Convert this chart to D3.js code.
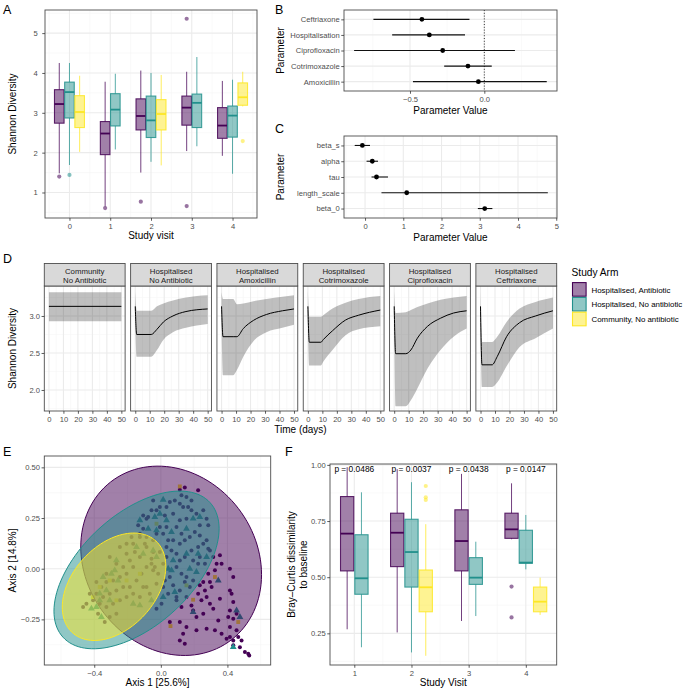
<!DOCTYPE html>
<html><head><meta charset="utf-8">
<script src="https://cdn.jsdelivr.net/npm/d3@7"></script>
<style>body{margin:0;background:#fff}svg{display:block}</style>
</head><body><svg id="c" width="685" height="689"></svg>
<script>
// ================= DATA =================
const armNames = ["Hospitalised, Antibiotic","Hospitalised, No antibiotic","Community, No antibiotic"];
const armColors = ["#440154","#21908C","#FDE725"];

// Panel A: [visit, arm, whiskerLow, q1, median, q3, whiskerHigh]
const visitsA = [0,1,2,3,4];
const shannonStats = [
 [0,0,1.48,2.74,3.22,3.58,4.25],
 [0,1,1.69,2.87,3.52,3.77,4.25],
 [0,2,2.02,2.63,3.02,3.43,3.93],
 [1,0,0.65,1.95,2.48,2.78,3.78],
 [1,1,2.08,2.67,3.08,3.48,3.98],
 [2,0,1.50,2.57,2.92,3.35,4.06],
 [2,1,1.77,2.38,2.81,3.42,4.00],
 [2,2,1.68,2.57,2.97,3.33,3.95],
 [3,0,2.04,2.69,3.13,3.42,4.03],
 [3,1,2.16,2.63,3.25,3.47,4.40],
 [4,0,1.92,2.36,2.68,3.13,3.80],
 [4,1,1.47,2.39,2.93,3.17,3.83],
 [4,2,3.16,3.19,3.39,3.75,4.03]
];
const shannonOutliers = [[0,0,1.40],[0,1,1.44],[1,0,0.61],[2,0,0.77],[3,0,5.36],[3,0,0.66],[4,2,2.29]];
const shannonTicks = [1,2,3,4,5];

// Panel B
const abxParams = ["Ceftriaxone","Hospitalisation","Ciprofloxacin","Cotrimoxazole","Amoxicillin"];
const abxMean = [-0.42,-0.37,-0.28,-0.11,-0.04];
const abxLow  = [-0.746,-0.62,-0.876,-0.27,-0.48];
const abxHigh = [-0.10,-0.13,0.206,0.05,0.42];
const abxTicks = [-0.5,0.0];

// Panel C
const hyperParams = ["beta_s","alpha","tau","length_scale","beta_0"];
const hyperMean = [-0.07,0.19,0.30,1.09,3.13];
const hyperLow  = [-0.27,0.04,0.17,0.43,2.95];
const hyperHigh = [0.13,0.34,0.60,4.78,3.33];
const hyperTicks = [0,1,2,3,4,5];

// Panel D: facets, rows [time, mean, lower, upper]
const facetNames = [["Community","No Antibiotic"],["Hospitalised","No Antibiotic"],["Hospitalised","Amoxicillin"],
                    ["Hospitalised","Cotrimoxazole"],["Hospitalised","Ciprofloxacin"],["Hospitalised","Ceftriaxone"]];
const curveCommunity = [[0,3.13,2.93,3.32],[50,3.13,2.93,3.32]];
const curveNoAbx = [[0,3.13,2.93,3.33],[1,2.75,2.45,3.07],[11,2.75,2.45,3.07],[15,2.82,2.54,3.13],[19.5,2.92,2.68,3.17],[26,3.0,2.78,3.21],[35,3.06,2.84,3.25],[50,3.095,2.89,3.28]];
const curveAmox = [[0,3.13,2.93,3.32],[1,2.72,2.20,3.23],[8,2.72,2.20,3.23],[10.6,2.72,2.27,3.16],[15,2.83,2.45,3.17],[22,2.94,2.66,3.20],[31,3.02,2.78,3.23],[42,3.07,2.84,3.26],[50,3.095,2.88,3.28]];
const curveCotrim = [[0,3.13,2.93,3.34],[1,2.645,2.33,2.99],[9,2.645,2.33,2.99],[10.6,2.68,2.38,3.01],[17,2.80,2.54,3.10],[26,2.945,2.74,3.18],[35,3.01,2.82,3.23],[50,3.08,2.86,3.27]];
const curveCipro = [[0,3.13,2.93,3.33],[1,2.49,1.78,3.04],[8,2.49,1.78,3.05],[11.5,2.54,1.86,3.08],[16,2.70,2.02,3.12],[23,2.86,2.29,3.17],[32,2.97,2.54,3.22],[41,3.04,2.72,3.25],[50,3.07,2.83,3.27]];
const curveCeftri = [[0,3.13,2.93,3.33],[1,2.34,2.04,2.65],[8,2.34,2.04,2.65],[11.5,2.45,2.10,2.72],[18,2.72,2.32,2.92],[27,2.91,2.58,3.10],[38,3.00,2.70,3.19],[50,3.07,2.83,3.25]];
const facetCurves = [curveCommunity,curveNoAbx,curveAmox,curveCotrim,curveCipro,curveCeftri];
const timeTicks = [0,10,20,30,40,50];
const diversityTicksD = [2.0,2.5,3.0];

// Panel E: PCoA points [axis1, axis2]
const pcoaCircles = [
 [0.114,0.390],[0.144,0.400],[0.224,0.387],[0.124,0.362],[0.154,0.354],[0.184,0.337],[0.355,0.066],[0.365,0.025],
 [0.335,0.025],[0.325,-0.008],[0.415,0.0],[0.435,-0.041],[0.285,-0.025],[0.255,-0.066],[0.295,-0.066],[0.234,-0.082],
 [0.265,-0.107],[0.305,-0.090],[0.224,-0.123],[0.275,-0.140],[0.244,-0.156],[0.295,-0.173],[0.415,-0.107],[0.425,-0.123],
 [0.435,-0.164],[0.315,-0.197],[0.255,-0.222],[0.214,-0.238],[0.194,-0.206],[0.094,-0.156],[0.124,-0.189],[0.054,-0.263],
 [0.114,-0.263],[0.154,-0.288],[0.134,-0.321],[0.114,-0.354],[0.144,-0.370],[0.214,-0.304],[0.275,-0.296],[0.325,-0.304],
 [0.415,-0.206],[0.405,-0.238],[0.435,-0.247],[0.455,-0.222],[0.415,-0.288],[0.455,-0.304],[0.415,-0.337],[0.465,-0.337],
 [0.435,-0.354],[0.485,-0.354],[0.475,-0.387],[0.505,-0.411],[0.525,-0.419],[0.531,-0.428],[0.435,-0.378],[0.365,-0.321],
 [0.395,-0.345],[0.345,-0.255],[0.355,-0.148],[0.184,-0.181],
 [-0.106,0.263],[-0.086,0.247],[-0.056,0.288],[-0.026,0.288],[-0.006,0.304],[0.034,0.304],[0.054,0.329],[0.084,0.337],
 [0.114,0.321],[0.134,0.304],[0.164,0.304],[0.184,0.288],[0.214,0.271],[0.255,0.288],[0.275,0.247],[0.285,0.214],
 [0.234,0.214],[0.204,0.181],[0.174,0.156],[0.144,0.140],[0.114,0.123],[0.074,0.140],[0.044,0.140],[0.014,0.173],
 [-0.006,0.206],[0.034,0.206],[0.094,0.206],[0.114,0.239],[0.074,0.271],[0.024,0.263],[0.154,0.247],[0.234,0.164],
 [0.255,0.123],[0.224,0.107],[0.184,0.090],[0.144,0.058],[0.114,0.041],[0.094,0.008],[0.124,-0.025],[0.154,-0.041],
 [0.194,-0.058],[0.174,-0.090],[0.144,-0.066],[0.054,-0.041],[0.024,-0.058],[0.074,-0.082],[0.114,-0.107],[0.044,-0.123],
 [0.014,-0.090],[-0.016,-0.025],[-0.036,0.008],[0.034,0.058],[-0.006,0.082],[0.064,0.090],[0.094,0.074],[0.034,0.107],
 [-0.046,0.140],[-0.086,0.156],[-0.126,0.173],[-0.106,0.197],[-0.136,0.214],[0.275,0.140],[0.295,0.090],[0.315,0.058],
 [0.265,0.025],[0.224,0.025],[0.234,0.058],[0.194,0.041],[0.285,0.099],[0.124,0.173],[-0.046,0.337],[-0.076,0.255],
 [-0.096,0.123],[-0.056,0.049],[0.014,0.025],[-0.026,-0.074],[-0.066,-0.123],[0.094,-0.140],[0.154,-0.140],[0.004,-0.173],
 [-0.026,-0.197],
 [-0.126,0.156],[-0.086,0.107],[-0.166,0.123],[-0.206,0.123],[-0.246,0.107],[-0.307,0.058],[-0.267,0.025],[-0.226,0.008],
 [-0.206,-0.025],[-0.246,-0.041],[-0.287,-0.058],[-0.327,-0.066],[-0.357,-0.090],[-0.387,-0.123],[-0.347,-0.140],[-0.307,-0.123],
 [-0.267,-0.107],[-0.226,-0.090],[-0.186,-0.090],[-0.146,-0.058],[-0.116,-0.025],[-0.086,0.008],[-0.046,-0.008],[-0.056,0.025],
 [-0.166,0.008],[-0.186,0.041],[-0.206,0.074],[-0.126,0.058],[-0.367,-0.173],[-0.407,-0.156],[-0.377,-0.222],[-0.327,-0.189],
 [-0.287,-0.173],[-0.246,-0.156],[-0.206,-0.140],[-0.166,-0.123],[-0.126,-0.140],[-0.086,-0.090],[-0.337,-0.263],[-0.307,-0.238],
 [-0.267,-0.222],[-0.447,-0.173],[-0.427,-0.123],[-0.467,-0.189],[-0.387,-0.066],[-0.327,-0.025],[-0.156,0.082],[-0.176,0.156],
 [-0.046,0.082],[-0.026,0.173],[-0.106,-0.090]
];
const pcoaTriangles = [
 [0.014,0.340],[-0.006,0.271],[-0.036,0.255],[0.034,0.239],[0.194,0.247],[0.234,0.255],[-0.126,0.239],[-0.076,0.197],
 [-0.026,0.189],[0.064,0.181],[0.154,0.197],[0.154,0.074],[0.074,0.041],[0.044,0.0],[0.064,-0.008],[0.174,0.0],
 [0.214,-0.016],[0.345,-0.058],[0.084,-0.115],[0.194,-0.214],[-0.056,-0.156],[0.014,-0.140],[-0.106,0.074],[-0.026,0.058],
 [-0.146,0.107],[-0.046,0.090],[-0.267,0.041],[-0.277,-0.008],[-0.297,-0.025],[-0.347,-0.041],[-0.257,-0.058],[-0.367,-0.123],
 [-0.327,-0.107],[-0.387,-0.189],[-0.357,-0.238],[-0.417,-0.197],[-0.166,-0.173],[-0.126,-0.181],[0.455,-0.206],[0.475,-0.238],
 [0.435,-0.387],[-0.367,-0.156],[-0.307,-0.156],[0.224,0.074],[0.275,0.058]
];
const pcoaSquares = [
 [0.114,0.406],[0.325,-0.041],[0.194,-0.153],[0.058,-0.283],[0.465,-0.263],[0.154,-0.082],[-0.026,0.222],
 [-0.307,-0.058],[-0.367,-0.090],[-0.407,-0.140],[-0.267,-0.156],[-0.206,-0.058],[-0.126,-0.025]
];
// ellipses per arm: [centreX, centreY, sdX, sdY, correlation]
const armEllipses = [[0.062,0.039,0.543,0.467,-0.146],[-0.146,-0.006,0.496,0.389,0.523],[-0.281,-0.089,0.311,0.265,0.38]];
const pcoaXTicks = [-0.4,0.0,0.4];
const pcoaYTicks = [-0.25,0.0,0.25,0.50];

// Panel F: [visit, arm, whiskerLow, q1, median, q3, whiskerHigh]
const visitsF = [1,2,3,4];
const brayStats = [
 [1,0,0.268,0.528,0.694,0.859,0.99],
 [1,1,0.188,0.424,0.495,0.689,0.878],
 [2,0,0.254,0.547,0.698,0.785,0.981],
 [2,1,0.165,0.456,0.612,0.758,0.923],
 [2,2,0.150,0.346,0.455,0.532,0.736],
 [3,0,0.305,0.528,0.661,0.800,0.96],
 [3,1,0.327,0.468,0.498,0.587,0.658],
 [4,0,0.669,0.673,0.713,0.785,0.918],
 [4,1,0.535,0.562,0.565,0.709,0.777],
 [4,2,0.332,0.346,0.391,0.456,0.498]
];
const brayOutliers = [[2,2,0.906],[2,2,0.856],[2,2,0.844],[4,0,0.458],[4,0,0.321]];
const brayTicks = [0.25,0.50,0.75,1.00];
const pLabels = ["p = 0.0486","p = 0.0037","p = 0.0438","p = 0.0147"];
const pLabelLevel = 0.97;

// ================= DRAWING =================
const FONT = '"Liberation Sans", Arimo, Arial, Helvetica, sans-serif';
const svg = d3.select("#c").attr("font-family", FONT);
const MAJ = "#ebebeb", MIN = "#f5f5f5", BORDER = "#4d4d4d";

function frame(x0,x1,yt,yb,vMaj,vMin,hMaj,hMin){
  const g = svg.append("g");
  g.append("rect").attr("x",x0).attr("y",yt).attr("width",x1-x0).attr("height",yb-yt).attr("fill","#fff");
  const vl=(px,c,w)=>{ if(px>x0&&px<x1) g.append("line").attr("x1",px).attr("x2",px).attr("y1",yt).attr("y2",yb).attr("stroke",c).attr("stroke-width",w); };
  const hl=(py,c,w)=>{ if(py>yt&&py<yb) g.append("line").attr("y1",py).attr("y2",py).attr("x1",x0).attr("x2",x1).attr("stroke",c).attr("stroke-width",w); };
  (vMin||[]).forEach(p=>vl(p,MIN,0.6)); (hMin||[]).forEach(p=>hl(p,MIN,0.6));
  (vMaj||[]).forEach(p=>vl(p,MAJ,1.1)); (hMaj||[]).forEach(p=>hl(p,MAJ,1.1));
  return g;
}
function border(x0,x1,yt,yb){
  svg.append("rect").attr("x",x0).attr("y",yt).attr("width",x1-x0).attr("height",yb-yt)
    .attr("fill","none").attr("stroke",BORDER).attr("stroke-width",0.9);
}
function styleAxis(g){
  g.attr("font-size",7.6).attr("font-family",FONT);
  g.select(".domain").remove();
  g.selectAll(".tick line").attr("stroke","#333").attr("stroke-width",0.8);
  g.selectAll(".tick text").attr("fill","#4d4d4d");
}
function bottomAxis(scale, y, ticks, fmt){
  svg.append("g").attr("transform",`translate(0,${y})`)
   .call(d3.axisBottom(scale).tickValues(ticks).tickSize(2.75).tickPadding(2.6).tickFormat(fmt)).call(styleAxis);
}
function leftAxis(scale, x, ticks, fmt, pad){
  const ax = d3.axisLeft(scale).tickSize(2.75).tickPadding(pad==null?1.6:pad);
  if(ticks) ax.tickValues(ticks);
  if(fmt) ax.tickFormat(fmt);
  svg.append("g").attr("transform",`translate(${x},0)`).call(ax).call(styleAxis);
}
function title(txt,x,y,rot,size){
  const t = svg.append("text").attr("x",x).attr("y",y).attr("text-anchor","middle")
    .attr("font-size",size||10).attr("fill","#000").text(txt);
  if(rot) t.attr("transform",`rotate(-90,${x},${y})`);
  return t;
}
function tag(txt,x,y){ svg.append("text").attr("x",x).attr("y",y).attr("font-size",12.5).attr("fill","#000").text(txt); }

function slotOffset(stats, visit, arm){
  const arms = stats.filter(r=>r[0]===visit).map(r=>r[1]);
  const n = arms.length, i = arms.indexOf(arm);
  return (i-(n-1)/2)*0.25;
}
function drawBoxes(g,x,y,stats,outliers,bw){
  const hw = (x(bw)-x(0))/2;
  stats.forEach(r=>{
    const [v,a,lo,q1,md,q3,hi] = r;
    const c = x(v+slotOffset(stats,v,a)), col = armColors[a];
    g.append("line").attr("x1",c).attr("x2",c).attr("y1",y(hi)).attr("y2",y(q3)).attr("stroke",col).attr("stroke-width",1).attr("stroke-opacity",0.75);
    g.append("line").attr("x1",c).attr("x2",c).attr("y1",y(q1)).attr("y2",y(lo)).attr("stroke",col).attr("stroke-width",1).attr("stroke-opacity",0.75);
    g.append("rect").attr("x",c-hw).attr("y",y(q3)).attr("width",2*hw).attr("height",y(q1)-y(q3))
      .attr("fill",col).attr("fill-opacity",0.5).attr("stroke",col).attr("stroke-width",1.1).attr("stroke-opacity",0.85);
    g.append("line").attr("x1",c-hw).attr("x2",c+hw).attr("y1",y(md)).attr("y2",y(md)).attr("stroke",col).attr("stroke-width",1.8);
  });
  outliers.forEach(o=>{
    g.append("circle").attr("cx",x(o[0]+slotOffset(stats,o[0],o[1]))).attr("cy",y(o[2])).attr("r",2.1)
      .attr("fill",armColors[o[1]]).attr("fill-opacity",0.55);
  });
}

// ---------- Panel A ----------
{
  const x = d3.scaleLinear().domain([-0.6,4.6]).range([45,257]);
  const y = d3.scaleLinear().domain([0.36,5.58]).range([218,10]);
  const g = frame(45,257,10,218, visitsA.map(x), visitsA.concat([5]).map(v=>x(v-0.5)),
                  shannonTicks.map(y), [0.5,1.5,2.5,3.5,4.5,5.5].map(y));
  drawBoxes(g,x,y,shannonStats,shannonOutliers,0.235);
  border(45,257,10,218);
  bottomAxis(x,218,visitsA,d3.format("d"));
  leftAxis(y,45,shannonTicks,d3.format("d"),4.5);
  title("Study visit",151,239);
  title("Shannon Diversity",16,114,true);
  tag("A",3,14);
}

// ---------- Panel B & C (forest) ----------
function forest(params, mean, lo, hi, yt, yb, xdom, xticks, xminor, fmt, zeroLine){
  const x = d3.scaleLinear().domain(xdom).range([344,557]);
  const y = d3.scalePoint().domain(params).range([yt,yb]).padding(0.6);
  const g = frame(344,557,yt,yb, xticks.map(x), xminor.map(x), params.map(y), []);
  if(zeroLine) g.append("line").attr("x1",x(0)).attr("x2",x(0)).attr("y1",yt).attr("y2",yb)
     .attr("stroke","#000").attr("stroke-width",0.8).attr("stroke-dasharray","1,1.8");
  params.forEach((p,i)=>{
    g.append("line").attr("x1",x(lo[i])).attr("x2",x(hi[i])).attr("y1",y(p)).attr("y2",y(p)).attr("stroke","#111").attr("stroke-width",1.1);
    g.append("circle").attr("cx",x(mean[i])).attr("cy",y(p)).attr("r",2.4).attr("fill","#000");
  });
  border(344,557,yt,yb);
  bottomAxis(x,yb,xticks,fmt);
  leftAxis(y,344,null,null,1.6);
  title("Parameter Value",450.5,yb+22.5);
  title("Parameter",284,(yt+yb)/2,true);
}
forest(abxParams,abxMean,abxLow,abxHigh,10,91,[-0.944,0.489],abxTicks,[-0.75,-0.25,0.25],d3.format(".1f"),true);
tag("B",275,14);
forest(hyperParams,hyperMean,hyperLow,hyperHigh,136,218,[-0.55,5.02],hyperTicks,[-0.5,0.5,1.5,2.5,3.5,4.5],d3.format("d"),false);
tag("C",275,133);

// ---------- Panel D ----------
{
  const stripTop = 263.5, pTop = 286, pBot = 411, L = 44.3, R = 556.7, gap = 5.5;
  const w = (R-L-gap*5)/6;
  const y = d3.scaleLinear().domain([1.716,3.405]).range([pBot,pTop]);
  facetNames.forEach((nm,k)=>{
    const x0 = L + k*(w+gap), x1 = x0 + w;
    const x = d3.scaleLinear().domain([-3.2,52.6]).range([x0,x1]);
    const g = frame(x0,x1,pTop,pBot, timeTicks.map(x), [5,15,25,35,45].map(x),
                    diversityTicksD.map(y), [1.75,2.25,2.75,3.25].map(y));
    const rows = facetCurves[k];
    g.append("path").datum(rows).attr("fill","#000").attr("fill-opacity",0.25)
      .attr("d", d3.area().x(d=>x(d[0])).y0(d=>y(d[2])).y1(d=>y(d[3])).curve(d3.curveMonotoneX));
    g.append("path").datum(rows).attr("fill","none").attr("stroke","#000").attr("stroke-width",1)
      .attr("d", d3.line().x(d=>x(d[0])).y(d=>y(d[1])).curve(d3.curveMonotoneX));
    border(x0,x1,pTop,pBot);
    svg.append("rect").attr("x",x0).attr("y",stripTop).attr("width",w).attr("height",pTop-stripTop)
      .attr("fill","#d9d9d9").attr("stroke",BORDER).attr("stroke-width",0.9);
    const st = svg.append("text").attr("x",(x0+x1)/2).attr("text-anchor","middle").attr("font-size",7.8).attr("fill","#1a1a1a");
    st.append("tspan").attr("x",(x0+x1)/2).attr("y",stripTop+10.2).text(nm[0]);
    st.append("tspan").attr("x",(x0+x1)/2).attr("y",stripTop+19.2).text(nm[1]);
    bottomAxis(x,pBot,timeTicks,d3.format("d"));
  });
  leftAxis(y,L,diversityTicksD,d3.format(".1f"),1.6);
  title("Time (days)",300.5,433);
  title("Shannon Diversity",16,348.5,true);
  tag("D",3,263);

  // legend
  svg.append("text").attr("x",571.5).attr("y",276).attr("font-size",10.2).attr("fill","#000").text("Study Arm");
  armNames.forEach((a,i)=>{
    const yy = 282 + i*14.8;
    svg.append("rect").attr("x",572.5).attr("y",yy+0.6).attr("width",13.6).attr("height",13.6)
      .attr("fill",armColors[i]).attr("fill-opacity",0.5).attr("stroke",armColors[i]).attr("stroke-width",1.1);
    svg.append("text").attr("x",591.5).attr("y",yy+10.6).attr("font-size",7.9).attr("fill","#000").text(a);
  });
}

// ---------- Panel E ----------
{
  const x = d3.scaleLinear().domain([-0.70,0.66]).range([44.3,270.7]);
  const y = d3.scaleLinear().domain([-0.475,0.556]).range([665,456]);
  const g = frame(44.3,270.7,456,665, pcoaXTicks.map(x), [-0.6,-0.2,0.2,0.6].map(x),
                  pcoaYTicks.map(y), [-0.375,-0.125,0.125,0.375].map(y));
  pcoaCircles.forEach(p=> g.append("circle").attr("cx",x(p[0])).attr("cy",y(p[1])).attr("r",2).attr("fill",armColors[0]));
  const tri = d3.symbol(d3.symbolTriangle,20), sq = d3.symbol(d3.symbolSquare,15);
  pcoaTriangles.forEach(p=> g.append("path").attr("d",tri()).attr("transform",`translate(${x(p[0])},${y(p[1])})`).attr("fill",armColors[1]));
  pcoaSquares.forEach(p=> g.append("path").attr("d",sq()).attr("transform",`translate(${x(p[0])},${y(p[1])})`).attr("fill",armColors[2]));
  const phis = d3.range(0,361,3).map(d=>d*Math.PI/180);
  armEllipses.forEach((e,i)=>{
    const [cx,cy,sx,sy,r] = e;
    const pts = phis.map(f=>[cx+sx*Math.cos(f), cy+sy*(r*Math.cos(f)+Math.sqrt(1-r*r)*Math.sin(f))]);
    g.append("path").datum(pts).attr("d",d3.line().x(d=>x(d[0])).y(d=>y(d[1])).curve(d3.curveLinearClosed))
      .attr("fill",armColors[i]).attr("fill-opacity",0.5).attr("stroke",armColors[i]).attr("stroke-width",1);
  });
  border(44.3,270.7,456,665);
  bottomAxis(x,665,pcoaXTicks,d3.format(".1f"));
  leftAxis(y,44.3,pcoaYTicks,d3.format(".2f"),1.6);
  title("Axis 1 [25.6%]",157.5,686);
  title("Axis 2 [14.8%]",16,560.5,true);
  tag("E",3,456);
}

// ---------- Panel F ----------
{
  const x = d3.scaleLinear().domain([0.575,4.54]).range([330,556.7]);
  const y = d3.scaleLinear().domain([0.109,1.004]).range([665,464]);
  const g = frame(330,556.7,464,665, visitsF.map(x), [1.5,2.5,3.5].map(x),
                  brayTicks.map(y), [0.125,0.375,0.625,0.875].map(y));
  drawBoxes(g,x,y,brayStats,brayOutliers,0.232);
  visitsF.forEach((v,i)=> g.append("text").attr("x",x(v)).attr("y",y(pLabelLevel)).attr("text-anchor","middle")
      .attr("font-size",8.4).attr("fill","#000").text(pLabels[i]));
  border(330,556.7,464,665);
  bottomAxis(x,665,visitsF,d3.format("d"));
  leftAxis(y,330,brayTicks,d3.format(".2f"),1.6);
  title("Study Visit",443.3,686);
  title("Bray\u2013Curtis dissimilarity",295,564.5,true);
  title("to baseline",307,564.5,true);
  tag("F",285,456);
}
</script></body></html>
